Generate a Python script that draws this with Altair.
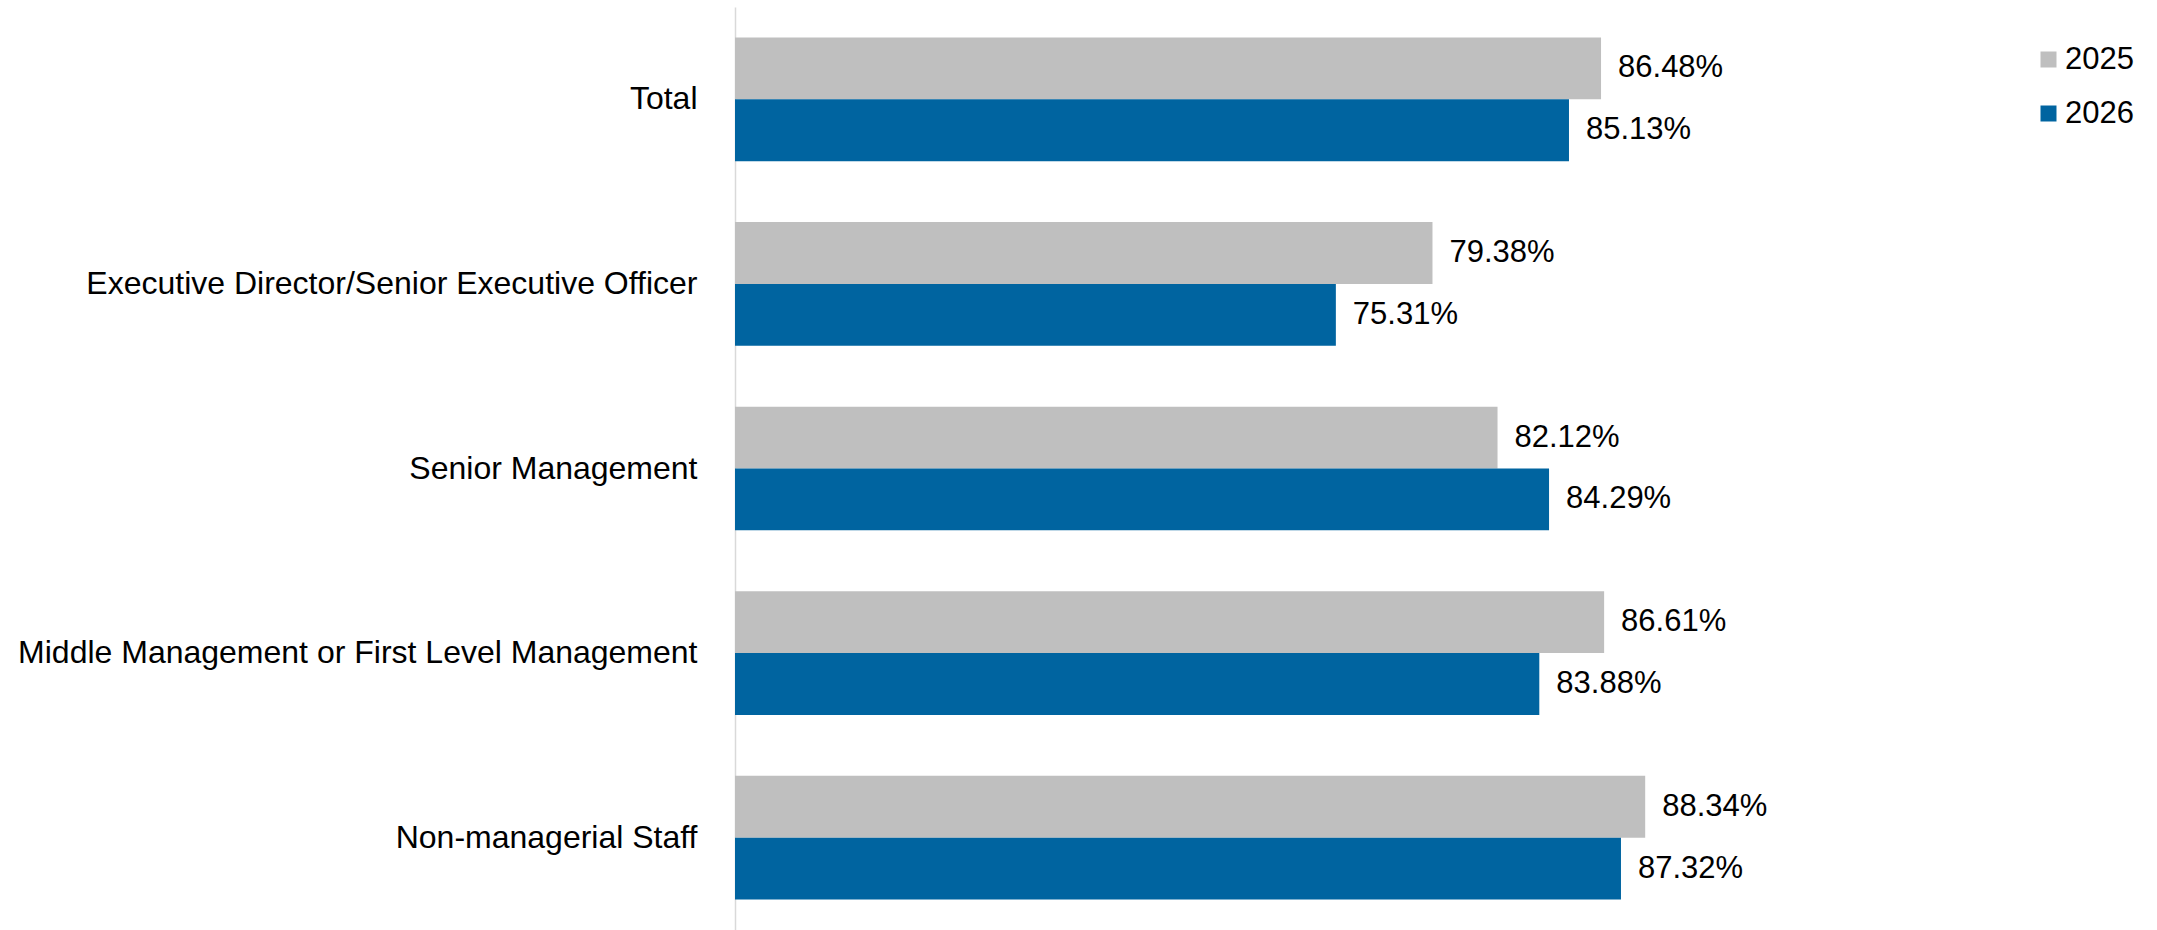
import altair as alt
import pandas as pd

categories = [
    "Total",
    "Executive Director/Senior Executive Officer",
    "Senior Management",
    "Middle Management or First Level Management",
    "Non-managerial Staff",
]
years = ["2025", "2026"]
values_2025 = [86.48, 79.38, 82.12, 86.61, 88.34]
values_2026 = [85.13, 75.31, 84.29, 83.88, 87.32]
colors = ["#BFBFBF", "#0064A0"]

rows = []
for c, a, b in zip(categories, values_2025, values_2026):
    rows.append({"category": c, "year": "2025", "value": a, "label": f"{a:.2f}%"})
    rows.append({"category": c, "year": "2026", "value": b, "label": f"{b:.2f}%"})
df = pd.DataFrame(rows)

FONT = "Liberation Sans"
FS = 31

base = alt.Chart(df).encode(
    y=alt.Y(
        "category:N",
        sort=categories,
        title=None,
        scale=alt.Scale(paddingInner=0.33, paddingOuter=0.165),
        axis=alt.Axis(
            labelFont=FONT,
            labelFontSize=32,
            labelColor="#000000",
            labelPadding=38,
            labelLimit=1000,
            ticks=False,
            domainColor="#D9D9D9",
            domainWidth=1.5,
            grid=False,
        ),
    ),
    yOffset=alt.YOffset("year:N", sort=years, scale=alt.Scale(paddingInner=0, paddingOuter=0)),
)

bars = base.mark_bar(clip=True).encode(
    x=alt.X("value:Q", scale=alt.Scale(domain=[50, 100], zero=False), axis=None),
    x2=alt.datum(50),
    color=alt.Color(
        "year:N",
        sort=years,
        scale=alt.Scale(domain=years, range=colors),
        legend=alt.Legend(
            title=None,
            orient="none",
            legendX=1298,
            legendY=37,
            symbolType="square",
            symbolSize=256,
            symbolStrokeWidth=0,
            symbolOpacity=1,
            labelFont=FONT,
            labelFontSize=FS,
            labelColor="#000000",
            labelOffset=1,
            rowPadding=22,
            padding=0,
        ),
    ),
)

text = base.mark_text(
    align="left", baseline="middle", dx=17, font=FONT, fontSize=FS, color="#000000"
).encode(
    x=alt.X("value:Q"),
    text="label:N",
)

chart = (
    alt.layer(bars, text)
    .properties(
        width=1187,
        height=923,
        autosize=alt.AutoSizeParams(type="none"),
        padding={"left": 735, "top": 7, "right": 235, "bottom": 0},
        background="#FFFFFF",
    )
    .configure_view(stroke=None)
)

chart.save("out.html", embed_options={"renderer": "svg", "actions": False})
